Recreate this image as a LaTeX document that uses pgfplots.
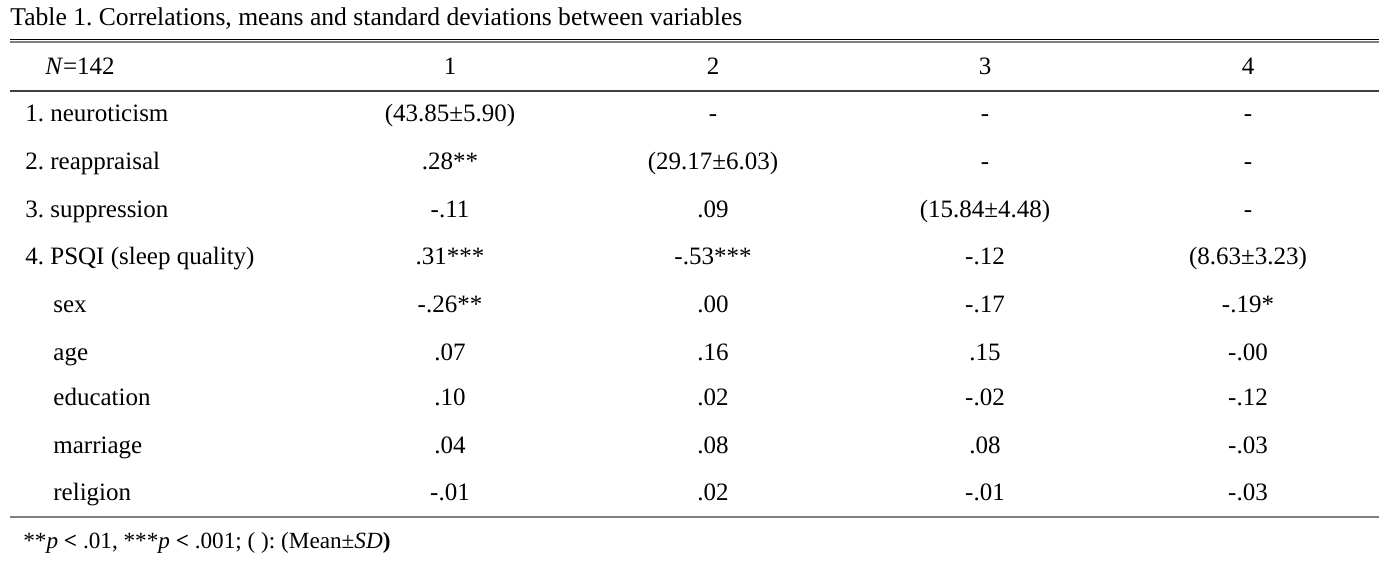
\documentclass[border=0pt]{standalone}
\usepackage{pgfplots}
\pgfplotsset{compat=1.18}
\usepackage{fontspec}
\setmainfont{Liberation Serif}
% protected so that they pass through the label expansion untouched
\protected\def\titlesize{\fontsize{12.8}{15}\selectfont}
\protected\def\notesize{\fontsize{11.6}{15}\selectfont}

\begin{document}
\frenchspacing
\fontsize{12.5}{15}\selectfont
\begin{tikzpicture}
\begin{axis}[
    scale only axis,
    width=699pt, height=280.5pt,
    xmin=0, xmax=1398, ymin=0, ymax=561,
    y dir=reverse,
    hide axis,
    clip=false,
]
% rules
\addplot[black, line width=0.55pt] coordinates {(10,39.3)(1379,39.3)};
\addplot[gray, line width=1pt] coordinates {(10,42.2)(1379,42.2)};
\addplot[darkgray, line width=0.75pt] coordinates {(10,91)(1379,91)};
\addplot[gray, line width=0.8pt] coordinates {(10,517)(1379,517)};
% cells that start at the left edge (x, baseline y in pixels)
\addplot[only marks, mark=none,
    visualization depends on={value \thisrow{label} \as \celltext},
    nodes near coords={\celltext},
    every node near coord/.append style={anchor=base west, inner sep=0pt}]
    table[x=x, y=y] {
x y label
10 26 {\titlesize Table 1. Correlations, means and standard deviations between variables}
25 122 {1. neuroticism}
25 170 {2. reappraisal}
25 218 {3. suppression}
25 265 {4. PSQI (sleep quality)}
53 313 {sex}
53 360 {age}
53 406 {education}
53 453 {marriage}
53 500 {religion}
23 548 {\notesize **\textit{p} \textbf{<} .01, ***\textit{p} \textbf{<} .001; ( ): (Mean±\textit{SD}\textbf{)}}
};
% centred cells
\addplot[only marks, mark=none,
    visualization depends on={value \thisrow{label} \as \celltext},
    nodes near coords={\celltext},
    every node near coord/.append style={anchor=base, inner sep=0pt}]
    table[x=x, y=y] {
x y label
80 75 {\textit{N}=142}
450 75 1
713 75 2
985 75 3
1248 75 4
450 122 {(43.85±5.90)}
713 122 -
985 122 -
1248 122 -
450 170 .28**
713 170 {(29.17±6.03)}
985 170 -
1248 170 -
450 218 -.11
713 218 .09
985 218 {(15.84±4.48)}
1248 218 -
450 265 .31***
713 265 -.53***
985 265 -.12
1248 265 {(8.63±3.23)}
450 313 -.26**
713 313 .00
985 313 -.17
1248 313 -.19*
450 360 .07
713 360 .16
985 360 .15
1248 360 -.00
450 406 .10
713 406 .02
985 406 -.02
1248 406 -.12
450 453 .04
713 453 .08
985 453 .08
1248 453 -.03
450 500 -.01
713 500 .02
985 500 -.01
1248 500 -.03
};
\end{axis}
\pgfresetboundingbox
\path (current axis.south west) rectangle (current axis.north east);
\end{tikzpicture}
\end{document}
